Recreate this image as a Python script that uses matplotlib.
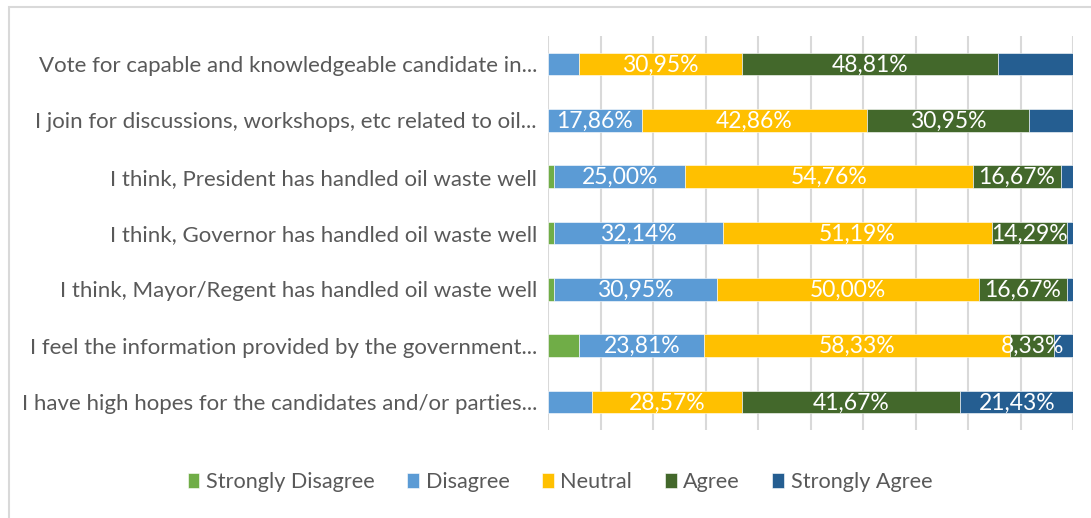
import numpy as np
import matplotlib.pyplot as plt
from matplotlib.patches import Rectangle

# survey statements, top to bottom
questions = [
    "Vote for capable and knowledgeable candidate in...",
    "I join for discussions, workshops, etc related to oil...",
    "I think, President has handled oil waste well",
    "I think, Governor has handled oil waste well",
    "I think, Mayor/Regent has handled oil waste well",
    "I feel the information provided by the government...",
    "I have high hopes for the candidates and/or parties...",
]

strongly_disagree = [0.00, 0.00, 1.19, 1.19, 1.19, 5.95, 0.00]
disagree = [5.95, 17.86, 25.00, 32.14, 30.95, 23.81, 8.33]
neutral = [30.95, 42.86, 54.76, 51.19, 50.00, 58.33, 28.57]
agree = [48.81, 30.95, 16.67, 14.29, 16.67, 8.33, 41.67]
strongly_agree = [14.29, 8.33, 2.38, 1.19, 1.19, 3.57, 21.43]

# which segments carry a value label
show_sd = [False] * 7
show_d = [False, True, True, True, True, True, False]
show_n = [True] * 7
show_a = [True] * 7
show_sa = [False, False, False, False, False, False, True]

series = [
    ("Strongly Disagree", strongly_disagree, "#70AD47", show_sd),
    ("Disagree", disagree, "#5B9BD5", show_d),
    ("Neutral", neutral, "#FFC000", show_n),
    ("Agree", agree, "#43682B", show_a),
    ("Strongly Agree", strongly_agree, "#255E91", show_sa),
]

plt.rcParams['font.family'] = ['Lato', 'DejaVu Sans']
W, H = 1091, 518
fig = plt.figure(figsize=(W / 100, H / 100), dpi=100)

# chart area outline
fig.patches.append(Rectangle((9 / W, -0.1), 1.2, 1 - 7 / H + 0.1, transform=fig.transFigure,
                             fill=False, edgecolor="#D9D9D9", linewidth=1.5))

ax = fig.add_axes([548 / W, 1 - 430 / H, 525 / W, 394 / H])
y = np.arange(len(questions))
left = np.zeros(len(questions))
for name, vals, color, show in series:
    vals = np.array(vals)
    bars = ax.barh(y, vals, left=left, height=0.4, color=color, label=name,
                   edgecolor="white", linewidth=0.4, zorder=3)
    for b, v, s in zip(bars, vals, show):
        if s:
            ax.text(b.get_x() + b.get_width() / 2, b.get_y() + b.get_height() / 2 + 0.02,
                    f"{v:.2f}".replace(".", ",") + "%", ha="center", va="center",
                    color="white", fontsize=16.5, zorder=4)
    left += vals

ax.set_xlim(0, 100)
ax.set_ylim(len(questions) - 0.5, -0.5)
ax.set_xticks(np.arange(0, 101, 10))
ax.xaxis.grid(True, color="#D9D9D9", linewidth=1.5, zorder=0)
ax.tick_params(axis="x", length=0, labelbottom=False)
ax.tick_params(axis="y", length=0, pad=8)
ax.set_yticks(y)
ax.set_yticklabels(questions, fontsize=16, color="#595959")
for sp in ax.spines.values():
    sp.set_visible(False)

fig.legend(loc="center", bbox_to_anchor=(560 / W, 1 - 482 / H), ncol=5, frameon=False,
           fontsize=15.6, labelcolor="#595959", handlelength=0.55, handleheight=0.65,
           handletextpad=0.3, columnspacing=1.5)

fig.savefig("out.png", dpi=100)
